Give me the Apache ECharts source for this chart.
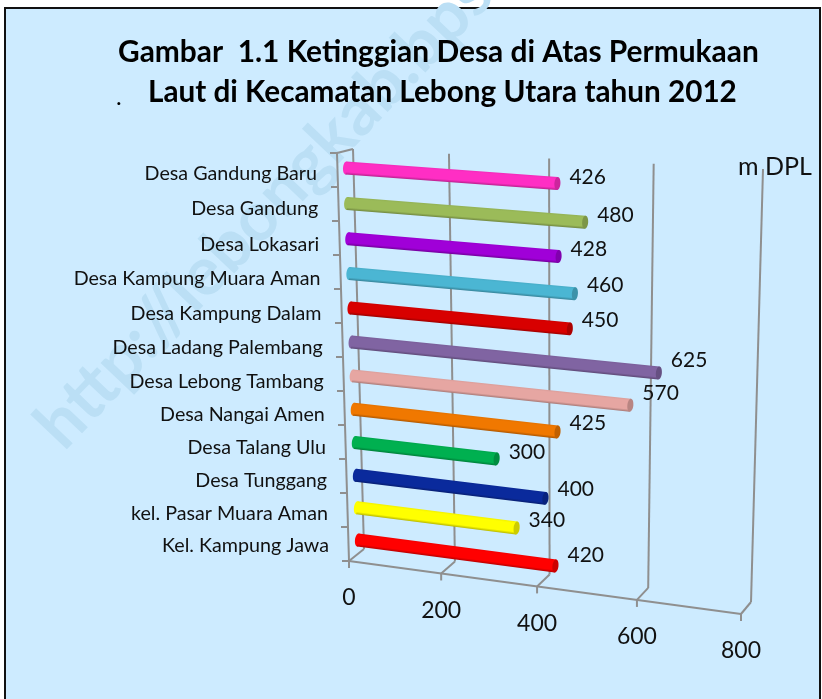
<!DOCTYPE html>
<html>
<head>
<meta charset="utf-8">
<style>
    html,body{margin:0;padding:0;background:#fff;}
    #myChart{width:822px;height:699px;}
</style>
</head>
<body>
<div id="myChart"></div>
<script src="https://cdn.jsdelivr.net/npm/echarts@6/dist/echarts.min.js"></script>
<script>
    // bottom row first, same order as the excel sheet
    var categories = ['Kel. Kampung Jawa', 'kel. Pasar Muara Aman', 'Desa Tunggang', 'Desa Talang Ulu', 'Desa Nangai Amen', 'Desa Lebong Tambang',
        'Desa Ladang Palembang', 'Desa Kampung Dalam', 'Desa Kampung Muara Aman', 'Desa Lokasari', 'Desa Gandung', 'Desa Gandung Baru'];
    var values = [420, 340, 400, 300, 425, 570, 625, 450, 460, 428, 480, 426];
    var colors = ['#ff0000', '#ffff00', '#0a2a9c', '#00b050', '#f07800', '#e6a6a2', '#8064a2', '#d80000', '#4bb6d3', '#a000d8', '#9bbb59', '#ff2ec4'];
    var xTicks = [0, 200, 400, 600, 800];

    var W = 822, H = 699;
    var GREY = '#8f8f8f';

    // fake 3d: plot square -> picture quad [v0 w0, v800 w0, v800 w1, v0 w1]
    function makeQuad(p){
        var sx = p[0][0]-p[1][0]+p[2][0]-p[3][0], sy = p[0][1]-p[1][1]+p[2][1]-p[3][1];
        var dx1 = p[1][0]-p[2][0], dx2 = p[3][0]-p[2][0], dy1 = p[1][1]-p[2][1], dy2 = p[3][1]-p[2][1];
        var den = dx1*dy2-dx2*dy1;
        var g = (sx*dy2-dx2*sy)/den, h = (dx1*sy-sx*dy1)/den;
        var a = p[1][0]-p[0][0]+g*p[1][0], b = p[3][0]-p[0][0]+h*p[3][0], c = p[0][0];
        var d = p[1][1]-p[0][1]+g*p[1][1], e = p[3][1]-p[0][1]+h*p[3][1], f = p[0][1];
        return function(u,w){
            var q = g*u+h*w+1;
            return [(a*u+b*w+c)/q, (d*u+e*w+f)/q];
        };
    }
    var barPlane = makeQuad([[358,540],[745,591],[755,198],[346,168]]);
    var backWall = makeQuad([[364,549],[751,602],[763,169],[353,149]]);

    // front edge of the floor, sits a bit left and below the back wall
    function floorFront(u){
        var p = backWall(u,0);
        return [p[0]-15+5*u, p[1]+12];
    }

    function unit(api,v,i){
        var c = api.coord([v,i]);
        return [c[0]/W, 1-c[1]/H];
    }
    function line(a,b,color,width){
        return {type:'line', shape:{x1:a[0],y1:a[1],x2:b[0],y2:b[1]}, style:{stroke:color||GREY,lineWidth:width||2}};
    }
    function shade(color,k){
        var n = parseInt(color.slice(1),16);
        var r = (n>>16)&255, g = (n>>8)&255, b = n&255;
        return 'rgb('+Math.round(r*k)+','+Math.round(g*k)+','+Math.round(b*k)+')';
    }

    function renderBar(params,api){
        var i = api.value(1), v = api.value(0);
        var s0 = unit(api,0,i), s1 = unit(api,v,i);
        var a = barPlane(s0[0],s0[1]), b = barPlane(s1[0],s1[1]);
        var len = Math.sqrt((b[0]-a[0])*(b[0]-a[0])+(b[1]-a[1])*(b[1]-a[1]));
        var rot = -Math.atan2(b[1]-a[1],b[0]-a[0]);
        var c = colors[i], t = 13;
        var grad = {type:'linear',x:0,y:0,x2:0,y2:1,colorStops:[
            {offset:0,color:shade(c,0.95)},{offset:0.15,color:c},{offset:0.8,color:c},{offset:1,color:shade(c,0.72)}]};
        return {type:'group',children:[
            {type:'group',x:a[0],y:a[1],rotation:rot,children:[
                {type:'ellipse',shape:{cx:0,cy:0,rx:3,ry:t/2},style:{fill:c}},
                {type:'rect',shape:{x:0,y:-t/2,width:len,height:t},style:{fill:grad}},
                {type:'ellipse',shape:{cx:len,cy:0,rx:3,ry:t/2},style:{fill:shade(c,0.8)}}
            ]},
            {type:'text',style:{text:String(v),x:b[0]+12,y:b[1]-0.4*(b[1]-a[1]),align:'left',verticalAlign:'middle',
                font:'21px Lato, "Open Sans", sans-serif',fill:'#111'}},
            {type:'text',style:{text:categories[i],x:a[0]-29,y:a[1]+5.5,align:'right',verticalAlign:'middle',
                font:'19.7px Lato, "Open Sans", sans-serif',fill:'#111'}}
        ]};
    }

    // walls and gridlines, one item per x tick
    function renderGrid(params,api){
        var v = api.value(0);
        var u = unit(api,v,0)[0];
        var base = backWall(u,0), top = backWall(u,1), front = floorFront(u);
        return {type:'group',children:[
            line(base,top),
            line(front,base),
            line(front,[front[0],front[1]+7]),
            {type:'text',style:{text:String(v),x:front[0],y:front[1]+37,align:'center',verticalAlign:'middle',
                font:'23px Lato, "Open Sans", sans-serif',fill:'#111'}}
        ]};
    }

    function renderFrame(params,api){
        var f0 = floorFront(0), f1 = floorFront(1);
        var topFront = [337,153], n = categories.length, kids = [];
        kids.push(line(f0,f1));
        kids.push(line(f0,topFront));
        kids.push(line(topFront,backWall(0,1)));
        for(var k=0;k<=n;k++){
            var x = f0[0]+(topFront[0]-f0[0])*k/n, y = f0[1]+(topFront[1]-f0[1])*k/n;
            kids.push(line([x,y],[x-7,y]));
        }
        return {type:'group',children:kids};
    }

    var myChart = echarts.init(document.getElementById('myChart'));
    myChart.setOption({
        animation:false,
        backgroundColor:'#fff',
        title:[
            {text:'Gambar  1.1 Ketinggian Desa di Atas Permukaan',left:113,top:32,textStyle:{fontFamily:'Lato',fontSize:29.9,fontWeight:'bold',color:'#000'}},
            {text:'Laut di Kecamatan Lebong Utara tahun 2012',left:143,top:72,textStyle:{fontFamily:'Lato',fontSize:29.7,fontWeight:'bold',color:'#000'}},
            {text:'.',left:111,top:80,textStyle:{fontFamily:'Lato',fontSize:24,fontWeight:'normal',color:'#000'}},
            {text:'m DPL',left:733,top:149,textStyle:{fontFamily:'Lato',fontSize:25,fontWeight:'normal',color:'#111'}}
        ],
        graphic:[
            {type:'rect',z:-10,shape:{x:5,y:8,width:815,height:710},style:{fill:'#cdebff',stroke:'#111',lineWidth:2},silent:true},
            {type:'text',z:-9,x:48,y:437,rotation:0.81,silent:true,
                style:{text:'http://lebongkab.bps.go.id',font:'bold 68px Lato, sans-serif',fill:'#bbdff5',verticalAlign:'middle'}}
        ],
        grid:{left:0,right:0,top:0,bottom:0},
        xAxis:{type:'value',min:0,max:800,interval:200,show:false},
        yAxis:{type:'category',data:categories,boundaryGap:false,show:false},
        series:[
            {type:'custom',name:'frame',silent:true,clip:false,z:1,renderItem:renderFrame,data:[[0,0]]},
            {type:'custom',name:'grid',silent:true,clip:false,z:1,renderItem:renderGrid,data:xTicks.map(function(t){return [t,0];})},
            {type:'custom',name:'Ketinggian',silent:true,clip:false,z:3,renderItem:renderBar,data:values.map(function(v,i){return [v,i];})}
        ]
    });
</script>
</body>
</html>
